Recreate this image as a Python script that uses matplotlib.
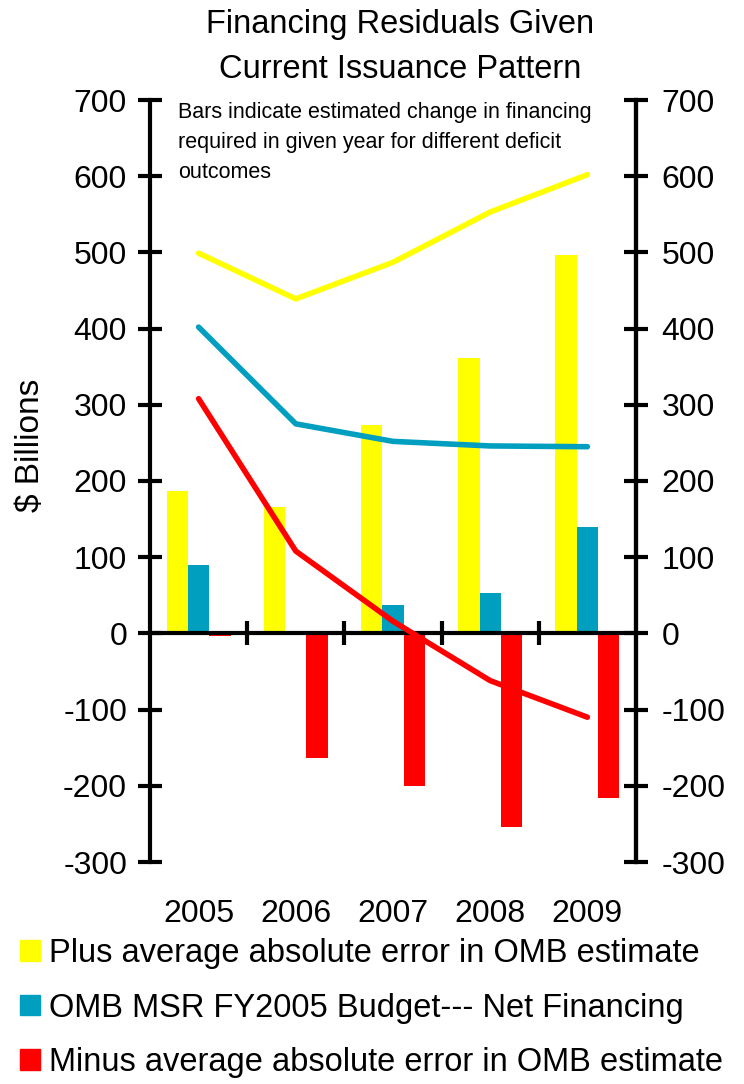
import numpy as np
import matplotlib
matplotlib.use("Agg")
import matplotlib.pyplot as plt
from matplotlib.patches import Patch
from matplotlib.transforms import blended_transform_factory

plt.rcParams['font.family'] = ['Liberation Sans', 'DejaVu Sans']

# data (values in $ billions)
years = ['2005', '2006', '2007', '2008', '2009']
plus_bars = [187, 166, 274, 361, 497]
net_bars = [90, 0, 37, 53, 140]
minus_bars = [-3, -164, -200, -254, -216]
plus_line = [499, 439, 487, 553, 602]
net_line = [402, 275, 252, 246, 245]
minus_line = [308, 108, 16, -62, -110]
yticks = [-300, -200, -100, 0, 100, 200, 300, 400, 500, 600, 700]

labels = ['Plus average absolute error in OMB estimate',
          'OMB MSR FY2005 Budget--- Net Financing',
          'Minus average absolute error in OMB estimate']

YELLOW = '#FFFF00'
TEAL = '#009FBF'
RED = '#FF0000'

fig = plt.figure(figsize=(7.44, 10.84), dpi=100)
ax = fig.add_axes([150/744, 1 - 862/1084, 486/744, 762/1084])

x = np.arange(len(years))
w = 0.22
ax.bar(x - w, plus_bars, w, color=YELLOW, zorder=2)
ax.bar(x, net_bars, w, color=TEAL, zorder=2)
ax.bar(x + w, minus_bars, w, color=RED, zorder=2)

lw = 4
ax.plot(x, plus_line, color=YELLOW, lw=lw, solid_capstyle='round', zorder=4)
ax.plot(x, net_line, color=TEAL, lw=lw, solid_capstyle='round', zorder=4)
ax.plot(x, minus_line, color=RED, lw=lw, solid_capstyle='round', zorder=4)

ax.set_xlim(-0.5, len(years) - 0.5)
ax.set_ylim(-300, 700)
ax.set_yticks(yticks)
ax.set_yticklabels([str(v) for v in yticks])

# spines
for s in ['left', 'right']:
    ax.spines[s].set_linewidth(3)
ax.spines['top'].set_visible(False)
ax.spines['bottom'].set_position(('data', 0))
ax.spines['bottom'].set_linewidth(3)
ax.spines['bottom'].set_zorder(3)

ax.set_xticks(x[:-1] + 0.5)
ax.set_xticklabels([])
ax.tick_params(axis='x', direction='inout', length=17, width=3)
ax.tick_params(axis='y', direction='inout', length=17, width=3,
               labelsize=23, pad=8)

tr = blended_transform_factory(ax.transData, ax.transAxes)
for xi, yr in zip(x, years):
    ax.text(xi, -0.068, yr, transform=tr, ha='center', va='center', fontsize=23)

ax2 = ax.twinx()
ax2.set_ylim(ax.get_ylim())
ax2.set_yticks(yticks)
ax2.set_yticklabels([str(v) for v in yticks])
ax2.tick_params(axis='y', direction='inout', length=17, width=3,
                labelsize=23, pad=10)
for s in ['top', 'bottom', 'left']:
    ax2.spines[s].set_visible(False)
ax2.spines['right'].set_linewidth(3)

ax.set_ylabel('$ Billions', fontsize=24)
ax.yaxis.set_label_coords(-0.215, 0.547)

ax.text(0.058, 0.997,
        'Bars indicate estimated change in financing\n'
        'required in given year for different deficit\noutcomes',
        transform=ax.transAxes, ha='left', va='top', fontsize=15.5,
        linespacing=1.55)

fig.text(400/744, 1 - 47/1084, 'Financing Residuals Given\nCurrent Issuance Pattern',
         ha='center', va='center', fontsize=23.5, linespacing=1.55)

handles = [Patch(color=YELLOW), Patch(color=TEAL), Patch(color=RED)]
fig.legend(handles, labels, loc='upper left', bbox_to_anchor=(20/744, 1 - 938/1084),
           frameon=False, fontsize=23.5, handlelength=0.6, handleheight=0.6,
           handletextpad=0.3, labelspacing=0.72, borderaxespad=0, borderpad=0)

fig.savefig('out.png', dpi=100)
